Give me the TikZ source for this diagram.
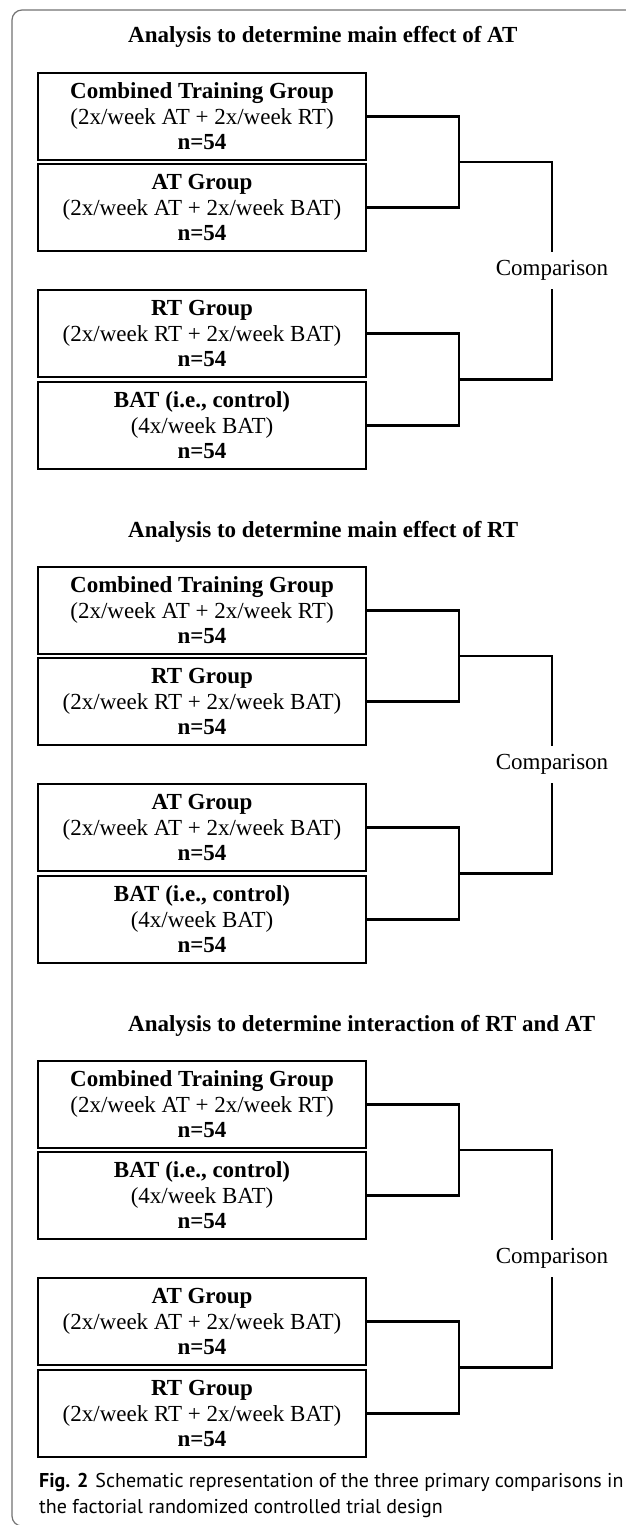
\documentclass[tikz,border=0pt]{standalone}
\usepackage{fontspec}
\setmainfont{Liberation Serif}
\newfontfamily\capfont{PT Sans}
\newcommand\anasec[7]{%
  \node[ttl] (#1t) at (128,#2-30) {#3};
  \node[grp] (#1a) at (202,#2+43.5) {#4};
  \node[grp] (#1b) at (202,#2+134.5) {#5};
  \node[grp] (#1c) at (202,#2+260.5) {#6};
  \node[grp] (#1d) at (202,#2+352.5) {#7};
  \node[cmp] (#1m) at (552,#2+197.5) {Comparison};
  \coordinate (#1j1) at (459,#2+89);
  \coordinate (#1j2) at (459,#2+306.5);
  \draw[conn] (#1a.east) -| (#1j1) |- (#1b.east);
  \draw[conn] (#1c.east) -| (#1j2) |- (#1d.east);
  \draw[conn] (#1j1) -| (#1m.north);
  \draw[conn] (#1m.south) |- (#1j2);
}
\newcommand\grpCT{\textbf{Combined Training Group}\\(2x/week AT + 2x/week RT)\\\textbf{n=54}}
\newcommand\grpAT{\textbf{AT Group}\\(2x/week AT + 2x/week BAT)\\\textbf{n=54}}
\newcommand\grpRT{\textbf{RT Group}\\(2x/week RT + 2x/week BAT)\\\textbf{n=54}}
\newcommand\grpBAT{\textbf{BAT (i.e., control)}\\(4x/week BAT)\\\textbf{n=54}}
\begin{document}
\begin{tikzpicture}[x=1pt,y=-1pt,
  grp/.style={draw=black,line width=2.4pt,minimum width=328pt,minimum height=87pt,
    inner sep=0pt,align=center,font=\fontsize{23}{25.5}\selectfont},
  cmp/.style={inner sep=0pt,minimum height=37pt,font=\fontsize{23}{26}\selectfont},
  ttl/.style={anchor=base west,inner sep=0pt,font=\fontsize{23}{26}\selectfont\bfseries},
  conn/.style={line width=2.4pt},
  frame/.style={draw=black!55,line width=1.2pt,rounded corners=10pt},
  captxt/.style={anchor=base west,inner sep=0pt,font=\capfont\fontsize{20}{24}\selectfont}]
\useasboundingbox (0,0) rectangle (625,1525);
\fill[white] (0,0) rectangle (625,1525);
\draw[frame] (680,1526) -- (12,1526) -- (12,10) -- (680,10);
\anasec{s1}{73}{Analysis to determine main effect of AT}{\grpCT}{\grpAT}{\grpRT}{\grpBAT}
\anasec{s2}{567}{Analysis to determine main effect of RT}{\grpCT}{\grpRT}{\grpAT}{\grpBAT}
\anasec{s3}{1061}{Analysis to determine interaction of RT and AT}{\grpCT}{\grpBAT}{\grpAT}{\grpRT}
\node[captxt] (cap1) at (39,1487) {\textbf{Fig. 2}\hspace{0.35em}Schematic representation of the three primary comparisons in};
\node[captxt] (cap2) at (39,1513) {the factorial randomized controlled trial design};
\end{tikzpicture}
\end{document}
